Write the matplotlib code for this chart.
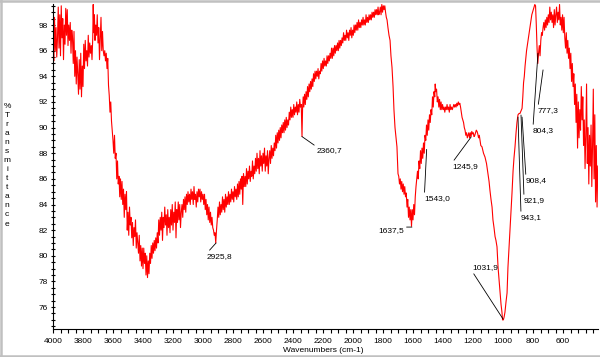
import matplotlib
matplotlib.use('Agg')
import matplotlib.pyplot as plt
from matplotlib.lines import Line2D
from matplotlib.ticker import MultipleLocator

# spectrum, (wavenumber cm-1, %T)
band_4000_3600 = [
    (3998, 96.5), (3995, 95.2), (3990, 98.6), (3985, 96.0), (3980, 97.8), (3975, 95.5), (3970, 97.0),
    (3965, 99.4), (3960, 96.2), (3955, 98.8), (3950, 95.6), (3945, 99.5), (3940, 97.0), (3935, 98.5),
    (3930, 95.3), (3925, 98.0), (3920, 96.5), (3915, 99.3), (3910, 97.2), (3905, 99.2), (3900, 96.4),
    (3895, 98.0), (3890, 96.8), (3885, 98.2), (3880, 95.8), (3875, 97.6), (3870, 97.0), (3865, 95.0),
    (3860, 97.5), (3855, 94.0), (3850, 96.0), (3845, 93.4), (3840, 95.5), (3835, 94.2), (3830, 92.6),
    (3825, 95.3), (3820, 93.0), (3815, 95.8), (3810, 92.4), (3805, 94.8), (3800, 93.2), (3795, 96.5),
    (3790, 94.6), (3785, 96.8), (3780, 95.2), (3775, 96.0), (3770, 94.8), (3765, 97.2), (3760, 95.5),
    (3755, 96.6), (3750, 95.8), (3745, 96.4), (3740, 95.3), (3735, 97.0), (3732, 99.6), (3728, 97.4),
    (3724, 98.8), (3720, 96.8), (3715, 98.0), (3710, 97.2), (3705, 98.8), (3700, 96.6), (3695, 97.8),
    (3690, 95.3), (3685, 97.0), (3680, 98.6), (3675, 96.0), (3670, 97.5), (3665, 96.0), (3660, 95.6),
    (3655, 96.0), (3650, 95.2), (3645, 95.8), (3640, 94.6), (3635, 95.4), (3630, 93.3), (3625, 92.5),
    (3620, 91.2), (3615, 92.0), (3610, 90.5), (3605, 89.8),
]
band_3600_3000 = [
    (3600, 89.0), (3595, 88.0), (3590, 89.4), (3585, 87.6), (3580, 88.0), (3575, 86.0), (3570, 87.4),
    (3565, 85.6), (3560, 86.2), (3555, 84.6), (3550, 86.0), (3545, 84.4), (3540, 85.8), (3535, 84.0),
    (3530, 85.2), (3525, 83.0), (3520, 84.8), (3515, 83.6), (3510, 85.0), (3505, 82.0), (3500, 83.4),
    (3495, 81.6), (3490, 83.8), (3485, 82.4), (3480, 83.0), (3475, 81.4), (3470, 82.6), (3465, 80.8),
    (3460, 82.2), (3455, 81.5), (3450, 82.8), (3445, 80.6), (3440, 81.8), (3435, 81.0), (3430, 80.2),
    (3425, 81.6), (3420, 79.6), (3415, 80.8), (3410, 79.2), (3405, 80.6), (3400, 79.0), (3395, 80.6),
    (3390, 79.4), (3385, 80.2), (3380, 78.5), (3375, 80.0), (3370, 78.3), (3365, 79.6), (3360, 78.6),
    (3355, 80.2), (3350, 79.4), (3345, 80.8), (3340, 79.8), (3335, 81.0), (3330, 80.2), (3325, 81.2),
    (3320, 80.4), (3315, 81.4), (3310, 80.6), (3305, 81.8), (3300, 81.0), (3295, 82.8), (3290, 81.6),
    (3285, 83.0), (3280, 82.0), (3275, 83.4), (3270, 81.2), (3265, 83.0), (3260, 82.2), (3255, 83.8),
    (3250, 82.4), (3245, 83.2), (3240, 81.6), (3235, 83.6), (3230, 82.2), (3225, 83.0), (3220, 81.8),
    (3215, 83.6), (3210, 82.4), (3205, 84.0), (3200, 82.0), (3195, 83.4), (3190, 82.6), (3185, 84.2),
    (3180, 81.4), (3175, 83.6), (3170, 82.6), (3165, 84.2), (3160, 82.8), (3155, 84.0), (3150, 82.2),
    (3145, 83.4), (3140, 84.0), (3135, 83.0), (3130, 84.4), (3125, 83.6), (3120, 84.6), (3115, 83.4),
    (3110, 84.8), (3105, 84.0), (3100, 85.0), (3095, 84.2), (3090, 84.8), (3085, 84.0), (3080, 85.2),
    (3075, 84.4), (3070, 85.0), (3065, 84.0), (3060, 85.4), (3055, 84.4), (3050, 84.8), (3045, 83.8),
    (3040, 85.0), (3035, 84.2), (3030, 85.2), (3025, 84.6), (3020, 85.2), (3015, 84.2), (3010, 85.0),
    (3005, 84.4),
]
band_3000_2400 = [
    (3000, 84.8), (2995, 84.0), (2990, 84.8), (2985, 83.6), (2980, 84.4), (2975, 83.2), (2970, 84.0),
    (2965, 82.8), (2960, 83.8), (2955, 82.6), (2950, 83.4), (2945, 82.4), (2940, 83.0), (2935, 82.2),
    (2930, 82.0), (2925, 81.6), (2920, 81.8), (2915, 81.0), (2910, 82.0), (2905, 82.8), (2900, 83.8),
    (2895, 83.0), (2890, 84.2), (2885, 83.2), (2880, 84.0), (2875, 83.4), (2870, 84.6), (2865, 83.6),
    (2860, 84.4), (2855, 83.4), (2850, 84.8), (2845, 83.8), (2840, 84.6), (2835, 84.0), (2830, 85.0),
    (2825, 84.0), (2820, 84.8), (2815, 84.2), (2810, 85.2), (2805, 84.4), (2800, 85.0), (2795, 84.2),
    (2790, 85.4), (2785, 84.6), (2780, 85.2), (2775, 84.4), (2770, 85.6), (2765, 84.6), (2760, 85.8),
    (2755, 84.8), (2750, 86.0), (2745, 85.2), (2740, 86.2), (2735, 84.0), (2730, 86.4), (2725, 85.4),
    (2720, 86.2), (2715, 85.4), (2710, 86.8), (2705, 85.6), (2700, 86.6), (2695, 86.0), (2690, 87.0),
    (2685, 85.8), (2680, 86.6), (2675, 86.2), (2670, 87.4), (2665, 86.0), (2660, 87.0), (2655, 86.4),
    (2650, 87.6), (2645, 86.6), (2640, 88.0), (2635, 86.8), (2630, 87.6), (2625, 86.4), (2620, 88.2),
    (2615, 87.0), (2610, 87.8), (2605, 86.6), (2600, 88.0), (2595, 87.2), (2590, 88.4), (2585, 86.6),
    (2580, 87.8), (2575, 87.0), (2570, 88.2), (2565, 86.4), (2560, 87.6), (2555, 88.2), (2550, 87.2),
    (2545, 88.6), (2540, 87.6), (2535, 88.4), (2530, 87.8), (2525, 88.8), (2520, 88.2), (2515, 89.4),
    (2510, 88.4), (2505, 89.6), (2500, 88.8), (2495, 89.8), (2490, 89.0), (2485, 90.0), (2480, 89.2),
    (2475, 90.2), (2470, 89.6), (2465, 90.4), (2460, 89.6), (2455, 90.6), (2450, 89.8), (2445, 90.8),
    (2440, 90.0), (2435, 90.6), (2430, 90.2), (2425, 91.2), (2420, 90.6), (2415, 91.6), (2410, 90.8),
    (2405, 91.4),
]
band_2400_1800 = [
    (2400, 90.8), (2395, 91.8), (2390, 91.0), (2385, 91.6), (2380, 91.2), (2375, 92.0), (2370, 91.0),
    (2365, 91.8), (2360, 91.2), (2355, 92.2), (2350, 91.6), (2345, 91.8), (2340, 89.3), (2336, 91.6),
    (2332, 92.4), (2328, 91.6), (2323, 92.6), (2318, 91.8), (2313, 92.8), (2308, 92.2), (2303, 93.2),
    (2298, 92.4), (2293, 93.4), (2288, 92.8), (2283, 93.6), (2278, 93.0), (2273, 93.8), (2268, 93.2),
    (2263, 94.2), (2258, 93.6), (2253, 94.4), (2248, 93.8), (2243, 94.4), (2238, 94.0), (2233, 94.6),
    (2228, 93.8), (2223, 94.4), (2218, 94.2), (2213, 95.0), (2208, 94.4), (2203, 95.2), (2198, 94.6),
    (2193, 95.4), (2188, 94.8), (2183, 95.2), (2178, 94.8), (2173, 95.6), (2168, 95.0), (2163, 95.6),
    (2158, 95.2), (2153, 95.8), (2148, 95.4), (2143, 96.2), (2138, 95.4), (2133, 96.2), (2128, 95.6),
    (2123, 96.4), (2118, 95.8), (2113, 96.4), (2108, 96.0), (2103, 96.6), (2098, 96.0), (2093, 96.8),
    (2088, 96.2), (2083, 96.8), (2078, 96.4), (2073, 97.0), (2068, 96.6), (2063, 97.4), (2058, 96.8),
    (2053, 97.2), (2048, 96.8), (2043, 97.6), (2038, 97.0), (2033, 97.4), (2028, 96.8), (2023, 97.6),
    (2018, 97.2), (2013, 97.8), (2008, 97.0), (2003, 97.6), (1998, 97.2), (1993, 98.0), (1988, 97.4),
    (1983, 98.0), (1978, 97.6), (1973, 98.2), (1968, 97.6), (1963, 98.4), (1958, 97.8), (1953, 98.2),
    (1948, 97.8), (1943, 98.4), (1938, 98.0), (1933, 98.6), (1928, 98.0), (1923, 98.4), (1918, 98.0),
    (1913, 98.8), (1908, 98.2), (1903, 98.6), (1898, 98.2), (1893, 98.8), (1888, 98.4), (1883, 98.8),
    (1878, 98.4), (1873, 99.0), (1868, 98.6), (1863, 99.0), (1858, 98.6), (1853, 99.2), (1848, 98.8),
    (1843, 99.2), (1838, 98.8), (1833, 99.4), (1828, 98.8), (1823, 99.0), (1818, 99.4), (1813, 98.8),
    (1808, 99.6), (1803, 99.0),
]
band_1800_1200 = [
    (1798, 99.5), (1793, 99.2), (1788, 99.5), (1783, 99.0), (1778, 98.6), (1773, 98.4), (1767, 97.8),
    (1760, 97.2), (1753, 96.8), (1747, 95.6), (1740, 94.7), (1733, 93.2), (1727, 91.4), (1720, 90.0),
    (1713, 89.2), (1707, 88.5), (1700, 86.4), (1695, 86.2), (1690, 85.6), (1685, 86.0), (1680, 85.2),
    (1675, 85.8), (1670, 85.0), (1665, 85.6), (1660, 84.8), (1655, 85.4), (1650, 84.6), (1645, 84.9),
    (1640, 83.8), (1635, 84.4), (1630, 83.0), (1625, 83.8), (1620, 82.8), (1615, 83.6), (1610, 82.3),
    (1605, 83.6), (1600, 82.8), (1595, 84.0), (1590, 83.2), (1585, 84.6), (1580, 85.4), (1575, 86.0),
    (1570, 86.6), (1565, 86.0), (1560, 87.4), (1555, 86.8), (1550, 88.2), (1545, 87.2), (1540, 88.4),
    (1535, 87.6), (1530, 88.8), (1525, 88.0), (1520, 89.4), (1515, 89.0), (1510, 90.2), (1505, 89.4),
    (1500, 90.6), (1495, 89.8), (1490, 91.0), (1485, 90.4), (1480, 91.4), (1475, 91.0), (1470, 92.4),
    (1465, 91.6), (1460, 92.8), (1455, 92.4), (1452, 93.4), (1448, 92.8), (1443, 93.0), (1438, 92.0),
    (1433, 92.4), (1428, 91.6), (1423, 92.2), (1418, 91.4), (1413, 92.0), (1408, 91.4), (1403, 91.8),
    (1398, 91.4), (1393, 91.6), (1388, 91.2), (1383, 91.6), (1378, 91.4), (1373, 91.8), (1368, 91.4),
    (1363, 91.6), (1358, 91.2), (1353, 91.8), (1348, 91.4), (1343, 91.6), (1338, 91.4), (1333, 91.6),
    (1328, 91.8), (1323, 91.6), (1318, 91.8), (1313, 91.6), (1308, 91.9), (1303, 91.7), (1298, 92.0),
    (1293, 91.8), (1288, 91.9), (1283, 91.6), (1278, 91.2), (1273, 90.8), (1268, 90.6), (1263, 90.4),
    (1258, 90.0), (1253, 89.8), (1248, 89.4), (1243, 89.6), (1238, 89.2), (1233, 89.4), (1228, 89.6),
    (1223, 89.2), (1218, 89.6), (1213, 89.3), (1208, 89.7), (1203, 89.5),
]
band_1200_360 = [
    (1198, 89.6), (1193, 89.3), (1188, 89.4), (1183, 89.6), (1178, 89.8), (1173, 89.7), (1168, 89.5),
    (1163, 89.2), (1158, 89.4), (1153, 89.0), (1148, 88.6), (1140, 88.5), (1130, 88.0), (1120, 87.7),
    (1110, 87.2), (1100, 86.4), (1093, 85.8), (1087, 85.1), (1080, 84.4), (1073, 83.8), (1067, 82.8),
    (1060, 82.2), (1053, 81.5), (1047, 81.2), (1040, 80.7), (1033, 79.1), (1027, 78.2), (1020, 77.1),
    (1013, 76.2), (1007, 75.6), (1003, 75.0), (998, 75.0), (993, 75.2), (987, 75.6), (980, 76.4),
    (973, 77.1), (967, 79.1), (960, 80.6), (953, 82.0), (947, 83.4), (940, 84.9), (933, 86.6),
    (927, 87.6), (920, 88.5), (913, 89.6), (907, 90.4), (900, 91.0), (893, 91.1), (887, 91.1),
    (880, 91.3), (873, 91.5), (868, 92.4), (863, 93.5), (858, 94.0), (853, 94.8), (848, 95.4),
    (843, 96.0), (838, 96.4), (833, 96.8), (828, 97.2), (823, 97.6), (818, 98.0), (813, 98.4),
    (808, 98.8), (803, 99.0), (798, 99.2), (793, 99.4), (788, 99.6), (783, 99.5), (778, 98.0),
    (773, 96.2), (768, 95.0), (763, 95.8), (758, 96.4), (753, 95.6), (748, 96.8), (743, 97.4),
    (738, 97.2), (733, 97.8), (728, 98.2), (723, 97.6), (718, 98.4), (713, 97.8), (708, 98.6),
    (703, 98.0), (698, 98.8), (693, 98.2), (688, 99.4), (683, 98.4), (678, 99.0), (673, 98.2),
    (668, 98.8), (663, 97.8), (658, 99.2), (653, 98.0), (648, 98.8), (643, 99.4), (638, 98.2),
    (633, 99.0), (628, 98.4), (623, 99.6), (618, 98.0), (613, 98.6), (608, 97.6), (603, 98.8),
    (598, 97.4), (593, 98.6), (588, 97.0), (583, 96.2), (578, 97.4), (573, 95.8), (568, 96.8),
    (563, 95.4), (558, 96.2), (553, 94.6), (548, 95.8), (543, 93.6), (538, 95.0), (533, 93.2),
    (528, 94.2), (523, 91.8), (518, 93.4), (513, 90.4), (508, 92.6), (503, 88.4), (498, 92.0),
    (493, 89.2), (488, 91.4), (483, 89.8), (478, 93.2), (473, 90.6), (468, 92.4), (463, 88.6),
    (458, 90.6), (453, 86.8), (448, 89.4), (443, 93.4), (438, 87.2), (433, 90.0), (428, 85.6),
    (423, 89.4), (418, 87.0), (413, 90.2), (408, 85.4), (403, 88.6), (398, 93.0), (393, 86.0),
    (388, 91.0), (383, 84.2), (378, 88.6), (373, 83.8), (368, 87.0),
]

# peak picks: label, point on curve, end of leader line (text hangs from the end)
peak_labels = ['2925,8', '2360,7', '1637,5', '1543,0', '1245,9', '1031,9',
               '943,1', '921,9', '908,4', '804,3', '777,3']
peak_points = [(2913, 81.0), (2340, 89.3), (1607, 82.24), (1509, 88.3), (1213, 89.26), (1000, 75.07),
               (900, 90.82), (880, 90.98), (873, 90.82), (767, 95.8), (733, 94.5)]
label_points = [(2973, 80.22), (2240, 88.48), (1833, 82.24), (1524, 84.74), (1340, 87.24), (1207, 78.81),
                (880, 83.26), (860, 84.58), (847, 86.14), (800, 90.04), (767, 91.6)]

x_ticks = [4000, 3800, 3600, 3400, 3200, 3000, 2800, 2600, 2400, 2200, 2000, 1800, 1600, 1400,
           1200, 1000, 800, 600]
y_ticks = [76, 78, 80, 82, 84, 86, 88, 90, 92, 94, 96, 98]
y_label = '%Transmittance'
x_label = 'Wavenumbers (cm-1)'

spectrum = band_4000_3600 + band_3600_3000 + band_3000_2400 + band_2400_1800 + band_1800_1200 + band_1200_360
wavenumber = [p[0] for p in spectrum]
transmittance = [p[1] for p in spectrum]

plt.rcParams['font.family'] = ['Liberation Sans', 'DejaVu Sans']
W, H = 600, 357
fig = plt.figure(figsize=(6.0, 3.57), dpi=100)
ax = fig.add_axes([53 / W, 1 - 329 / H, 545 / W, 325 / H])

ax.plot(wavenumber, transmittance, color='red', lw=0.8)
ax.set_xlim(4000, 366.7)
ax.set_ylim(74.29, 99.64)

ax.set_xticks(x_ticks)
ax.xaxis.set_minor_locator(MultipleLocator(50))
ax.set_yticks(y_ticks)
ax.yaxis.set_minor_locator(MultipleLocator(0.5))
ax.tick_params(axis='x', which='both', direction='out', length=2.7, width=0.8, labelsize=6, pad=3.5)
ax.tick_params(axis='y', which='both', direction='inout', length=3, width=0.8, labelsize=6, pad=2)

for side in ['top', 'right']:
    ax.spines[side].set_visible(False)
for side in ['left', 'bottom']:
    ax.spines[side].set_linewidth(0.8)

for text, pt, end in zip(peak_labels, peak_points, label_points):
    below = text != '1031,9'
    ax.annotate(text, xy=pt, xytext=end, fontsize=6, ha='left',
                va='top' if below else 'bottom',
                arrowprops=dict(arrowstyle='-', color='black', lw=0.6, shrinkA=0, shrinkB=0,
                                relpos=(0, 1) if below else (0, 0)))

fig.text(323.5 / W, 1 - 350 / H, x_label, fontsize=6, ha='center', va='center')
for i, ch in enumerate(y_label):
    fig.text(7 / W, 1 - (106 + i * 9.08) / H, ch, fontsize=6, ha='center', va='center')

# grey window frame
grey = '#c0c0c0'
fig.add_artist(Line2D([1.25 / W, 1.25 / W], [0, 1], color=grey, lw=1.8))
fig.add_artist(Line2D([0, 1], [1 - 1.25 / H, 1 - 1.25 / H], color=grey, lw=1.8))
fig.add_artist(Line2D([0, 1], [1.25 / H, 1.25 / H], color=grey, lw=1.8))

fig.savefig('out.png', dpi=100)
